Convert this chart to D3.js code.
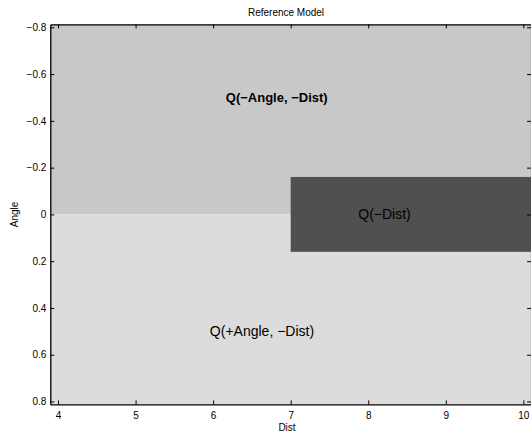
<!DOCTYPE html>
<html><head><meta charset="utf-8">
<script src="https://cdn.jsdelivr.net/npm/d3@7"></script>
<style>body{margin:0;background:#fff}svg{display:block}text{font-family:"Liberation Sans",Arial,sans-serif}</style>
</head><body>
<script>
// Data
const regionNames = ["Q(−Angle, −Dist)", "Q(+Angle, −Dist)", "Q(−Dist)"];
const regionX0 = [3.9, 3.9, 7.0];
const regionX1 = [10.1, 10.1, 10.1];
const regionY0 = [-0.8125, 0, -0.16];
const regionY1 = [0, 0.8125, 0.16];
const regionColors = ["#c8c8c8", "#dcdcdc", "#505050"];
const labelX = [6.82, 6.63, 8.21];
const labelY = [-0.5, 0.5, 0.0];
const labelBold = [true, false, false];
const xTicks = [4, 5, 6, 7, 8, 9, 10];
const xTickLabels = ["4", "5", "6", "7", "8", "9", "10"];
const yTicks = [-0.8, -0.6, -0.4, -0.2, 0, 0.2, 0.4, 0.6, 0.8];
const yTickLabels = ["−0.8", "−0.6", "−0.4", "−0.2", "0", "0.2", "0.4", "0.6", "0.8"];

(function () {
const W = 531, H = 432;
const svg = d3.select("body").append("svg").attr("width", W).attr("height", H);
const x = d3.scaleLinear().domain([3.9, 10.1]).range([50.3, 531.1]);
const y = d3.scaleLinear().domain([-0.8125, 0.8125]).range([24.4, 404.4]);

const g = svg.append("g");
regionNames.forEach((n, i) => {
  g.append("rect")
    .attr("x", x(regionX0[i])).attr("y", y(regionY0[i]))
    .attr("width", x(regionX1[i]) - x(regionX0[i]))
    .attr("height", y(regionY1[i]) - y(regionY0[i]))
    .attr("fill", regionColors[i]);
});
regionNames.forEach((n, i) => {
  g.append("text").attr("x", x(labelX[i])).attr("y", y(labelY[i]))
    .attr("text-anchor", "middle").attr("dominant-baseline", "central")
    .attr("font-size", labelBold[i] ? 13 : 14).attr("font-weight", labelBold[i] ? "bold" : "normal")
    .attr("fill", "#000").text(n);
});

const tl = 4;
const axBottom = svg.append("g").attr("transform", `translate(0,${y.range()[1]})`)
  .call(d3.axisBottom(x).tickValues(xTicks).tickSizeInner(-tl).tickSizeOuter(0).tickPadding(8)
    .tickFormat((d, i) => xTickLabels[i]));
const axTop = svg.append("g").attr("transform", `translate(0,${y.range()[0]})`)
  .call(d3.axisTop(x).tickValues(xTicks).tickSizeInner(-tl).tickSizeOuter(0).tickFormat(""));
const axLeft = svg.append("g").attr("transform", `translate(${x.range()[0]},0)`)
  .call(d3.axisLeft(y).tickValues(yTicks).tickSizeInner(-tl).tickSizeOuter(0).tickPadding(4)
    .tickFormat((d, i) => yTickLabels[i]));
const axRight = svg.append("g").attr("transform", `translate(${x.range()[1]},0)`)
  .call(d3.axisRight(y).tickValues(yTicks).tickSizeInner(-tl).tickSizeOuter(0).tickFormat(""));
[axBottom, axTop, axLeft, axRight].forEach(a => {
  a.selectAll("path").attr("stroke", "#000").attr("stroke-width", 1.3);
  a.selectAll("line").attr("stroke", "#000");
  a.selectAll("text").attr("font-size", 10).attr("fill", "#000")
    .attr("font-family", '"Liberation Sans",Arial,sans-serif');
});

svg.append("text").attr("x", 286).attr("y", 16).attr("text-anchor", "middle")
  .attr("font-size", 10).text("Reference Model");
svg.append("text").attr("x", 287).attr("y", 431).attr("text-anchor", "middle")
  .attr("font-size", 10).text("Dist");
svg.append("text").attr("transform", `translate(18,${y(0)}) rotate(-90)`)
  .attr("text-anchor", "middle").attr("font-size", 10).text("Angle");
})();
</script>
</body></html>
